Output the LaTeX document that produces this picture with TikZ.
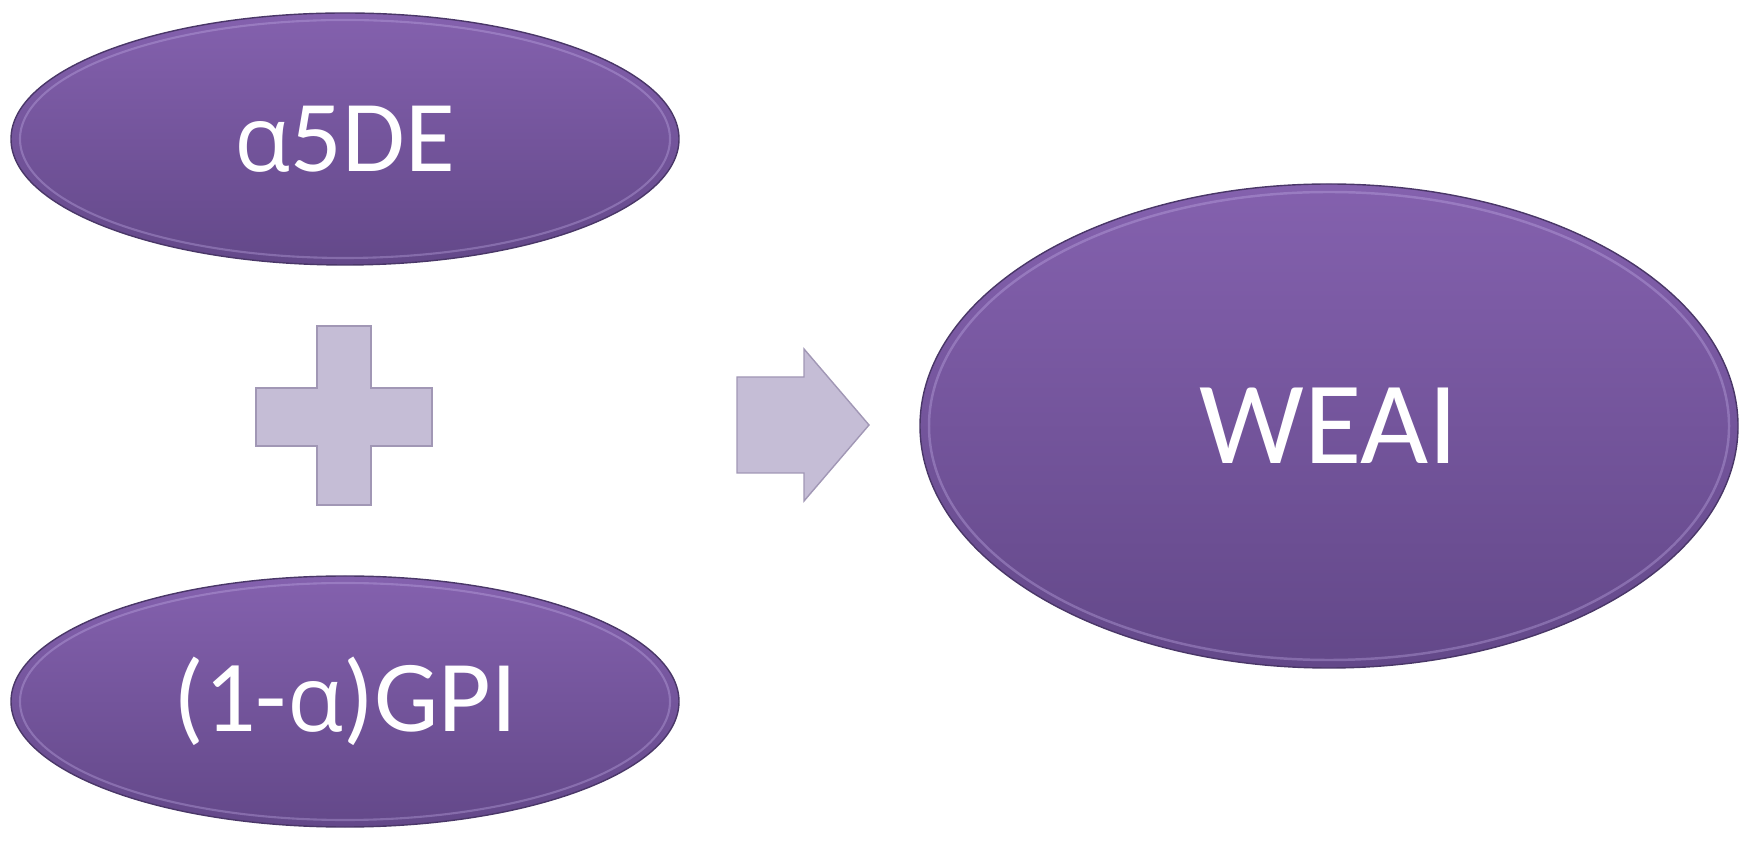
\documentclass[tikz,border=0pt]{standalone}
\usepackage{fontspec}
\setmainfont{Carlito}
\newfontfamily\grk[Scale=0.9]{Open Sans}
\usetikzlibrary{shapes.geometric}

\definecolor{ovaltop}{HTML}{8461AE}
\definecolor{ovalbot}{HTML}{634889}
\definecolor{ovalrim}{HTML}{4A3768}
\definecolor{ovalshine}{HTML}{C4B0E8}
\definecolor{signfill}{HTML}{C5BDD6}
\definecolor{signedge}{HTML}{A197B5}

\begin{document}
\begin{tikzpicture}[
    oval/.style={ellipse, draw=ovalrim, line width=0.8pt, top color=ovaltop,
      bottom color=ovalbot, inner sep=0pt, text=white},
    sign/.style={fill=signfill, draw=signedge, line width=0.8pt, line join=miter}
  ]
        \useasboundingbox (0,0) rectangle (34.94,16.92);

        \node[oval, minimum width=13.36cm, minimum height=5.04cm,
          font=\fontsize{58}{66}\selectfont] (de) at (6.90,14.14) {{\grk α}5DE};
        \node[oval, minimum width=13.36cm, minimum height=5.02cm,
          font=\fontsize{58}{66}\selectfont] (gpi) at (6.90,2.89) {(1-{\grk α})GPI};
        \node[oval, minimum width=16.36cm, minimum height=9.68cm,
          font=\fontsize{67}{80}\selectfont] (weai) at (26.58,8.40) {WEAI};

        % bevel highlight
        \draw[ovalshine, line width=1.2pt, opacity=0.35] (de.center) ellipse (6.50cm and 2.38cm);
        \draw[ovalshine, line width=1.2pt, opacity=0.35] (gpi.center) ellipse (6.50cm and 2.37cm);
        \draw[ovalshine, line width=1.4pt, opacity=0.35] (weai.center) ellipse (8.00cm and 4.68cm);

        % plus
        \draw[sign] (6.34,6.82) -- (7.42,6.82) -- (7.42,8.00) -- (8.64,8.00)
          -- (8.64,9.16) -- (7.42,9.16) -- (7.42,10.40) -- (6.34,10.40)
          -- (6.34,9.16) -- (5.12,9.16) -- (5.12,8.00) -- (6.34,8.00) -- cycle;

        % arrow
        \coordinate (tip) at (17.38,8.42);
        \draw[sign] (14.74,7.46) -- (16.08,7.46) -- (16.08,6.90) -- (tip)
          -- (16.08,9.94) -- (16.08,9.38) -- (14.74,9.38) -- cycle;
      \end{tikzpicture}
\end{document}
